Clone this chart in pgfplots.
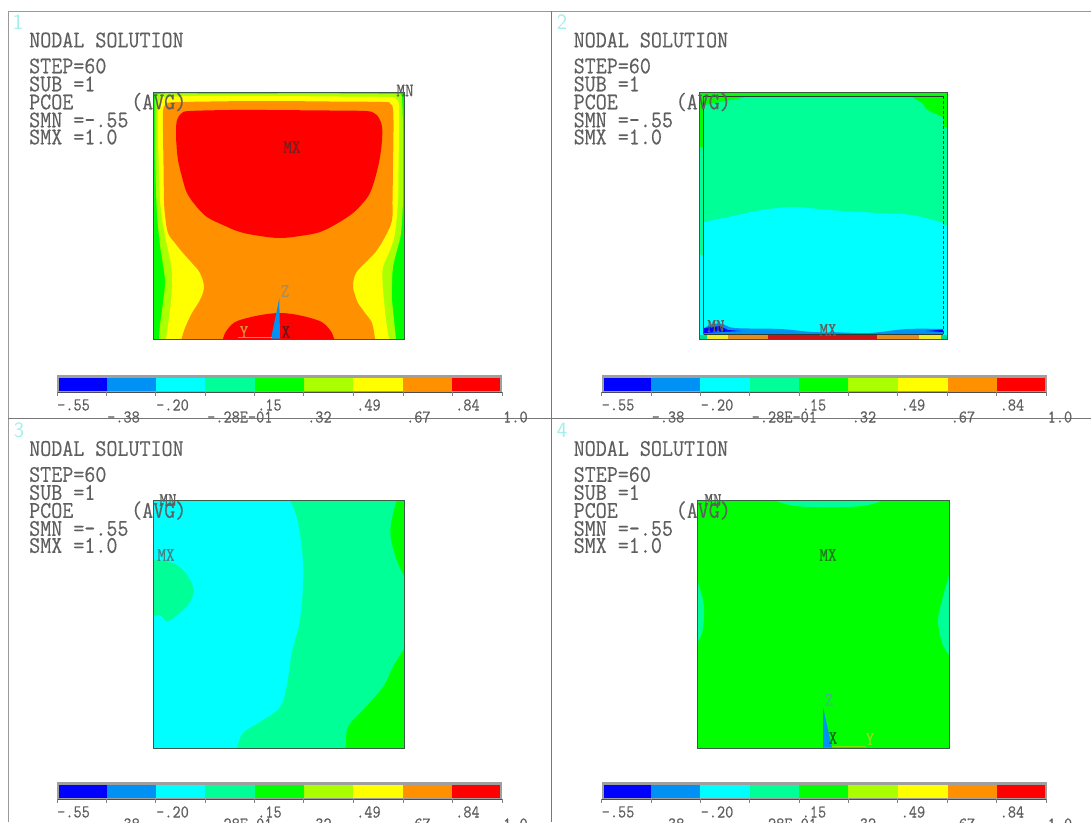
\documentclass[border=0pt]{standalone}
\usepackage{fontspec}
\usepackage{pgfplots}
\pgfplotsset{compat=1.18}
\newfontfamily\ansys{Latin Modern Mono}[FakeStretch=.88,FakeBold=.35]
\newfontfamily\ansysbig{Latin Modern Mono}[FakeStretch=.9,FakeBold=.35]
\definecolor{cA}{RGB}{0,0,255}
\definecolor{cB}{RGB}{0,145,245}
\definecolor{cC}{RGB}{0,255,255}
\definecolor{cD}{RGB}{0,255,150}
\definecolor{cE}{RGB}{0,255,0}
\definecolor{cF}{RGB}{170,255,0}
\definecolor{cG}{RGB}{255,255,0}
\definecolor{cH}{RGB}{255,145,0}
\definecolor{cI}{RGB}{255,0,0}
\definecolor{txtc}{RGB}{95,95,95}
\definecolor{framec}{RGB}{120,120,120}
\definecolor{edge}{RGB}{60,90,70}
\definecolor{numc}{RGB}{165,238,238}
\tikzset{
  bigt/.style={font=\fontsize{23.8}{23.8}\selectfont\ansysbig,text=txtc,anchor=west,inner sep=0pt},
  smallt/.style={font=\fontsize{18}{18}\selectfont\ansys,text=txtc,anchor=west,inner sep=0pt},
  lbl/.style={font=\fontsize{19}{19}\selectfont\ansys,text=txtc,inner sep=0pt},
  numt/.style={font=\fontsize{22}{22}\selectfont\sffamily,text=numc,inner sep=0pt},
  reg/.style={draw=none,smooth,tension=.6},
  poly/.style={draw=none}
}
% text block and colour bar, repeated for the four windows
\newcommand{\panelinfo}[2]{%
  \node[bigt,xshift=#1pt,yshift=-#2pt] at (axis cs:29,40) {NODAL SOLUTION};
  \node[bigt,xshift=#1pt,yshift=-#2pt] at (axis cs:29,66) {STEP=60};
  \node[bigt,xshift=#1pt,yshift=-#2pt] at (axis cs:29,84) {SUB =1};
  \node[bigt,xshift=#1pt,yshift=-#2pt] at (axis cs:29,102) {PCOE};
  \node[bigt,xshift=#1pt,yshift=-#2pt] at (axis cs:131,102) {(AVG)};
  \node[bigt,xshift=#1pt,yshift=-#2pt] at (axis cs:29,120) {SMN =-.55};
  \node[bigt,xshift=#1pt,yshift=-#2pt] at (axis cs:29,137) {SMX =1.0};
}
\newcommand{\cbar}[2]{%
  \addplot[fill=gray!75,draw=none,shift={(#1pt,-#2pt)}] coordinates {(57,375) (502,375) (502,392) (57,392)} -- cycle;
  \addplot[fill=cA,draw=none,shift={(#1pt,-#2pt)}] coordinates {(59,378) (106.5,378) (106.5,391) (59,391)} -- cycle;
  \addplot[fill=cB,draw=none,shift={(#1pt,-#2pt)}] coordinates {(106.5,378) (155.5,378) (155.5,391) (106.5,391)} -- cycle;
  \addplot[fill=cC,draw=none,shift={(#1pt,-#2pt)}] coordinates {(155.5,378) (205,378) (205,391) (155.5,391)} -- cycle;
  \addplot[fill=cD,draw=none,shift={(#1pt,-#2pt)}] coordinates {(205,378) (254.5,378) (254.5,391) (205,391)} -- cycle;
  \addplot[fill=cE,draw=none,shift={(#1pt,-#2pt)}] coordinates {(254.5,378) (303.5,378) (303.5,391) (254.5,391)} -- cycle;
  \addplot[fill=cF,draw=none,shift={(#1pt,-#2pt)}] coordinates {(303.5,378) (353,378) (353,391) (303.5,391)} -- cycle;
  \addplot[fill=cG,draw=none,shift={(#1pt,-#2pt)}] coordinates {(353,378) (403,378) (403,391) (353,391)} -- cycle;
  \addplot[fill=cH,draw=none,shift={(#1pt,-#2pt)}] coordinates {(403,378) (452,378) (452,391) (403,391)} -- cycle;
  \addplot[fill=cI,draw=none,shift={(#1pt,-#2pt)}] coordinates {(452,378) (500,378) (500,391) (452,391)} -- cycle;
  \addplot[draw=gray!60!black,line width=1pt,shift={(#1pt,-#2pt)}] coordinates {(57,392.5) (502,392.5)};
  \addplot[draw=gray,line width=.6pt,shift={(#1pt,-#2pt)}] coordinates {(57,392) (57,396)};
  \addplot[draw=gray,line width=.6pt,shift={(#1pt,-#2pt)}] coordinates {(106.5,392) (106.5,396)};
  \addplot[draw=gray,line width=.6pt,shift={(#1pt,-#2pt)}] coordinates {(155.5,392) (155.5,396)};
  \addplot[draw=gray,line width=.6pt,shift={(#1pt,-#2pt)}] coordinates {(205,392) (205,396)};
  \addplot[draw=gray,line width=.6pt,shift={(#1pt,-#2pt)}] coordinates {(254.5,392) (254.5,396)};
  \addplot[draw=gray,line width=.6pt,shift={(#1pt,-#2pt)}] coordinates {(303.5,392) (303.5,396)};
  \addplot[draw=gray,line width=.6pt,shift={(#1pt,-#2pt)}] coordinates {(353,392) (353,396)};
  \addplot[draw=gray,line width=.6pt,shift={(#1pt,-#2pt)}] coordinates {(403,392) (403,396)};
  \addplot[draw=gray,line width=.6pt,shift={(#1pt,-#2pt)}] coordinates {(452,392) (452,396)};
  \addplot[draw=gray,line width=.6pt,shift={(#1pt,-#2pt)}] coordinates {(502,392) (502,396)};
  \node[smallt,xshift=#1pt,yshift=-#2pt] at (axis cs:57,405) {-.55};
  \node[smallt,xshift=#1pt,yshift=-#2pt] at (axis cs:107,417) {-.38};
  \node[smallt,xshift=#1pt,yshift=-#2pt] at (axis cs:156,405) {-.20};
  \node[smallt,xshift=#1pt,yshift=-#2pt] at (axis cs:207,417) {-.28E-01};
  \node[smallt,xshift=#1pt,yshift=-#2pt] at (axis cs:257,405) {.15};
  \node[smallt,xshift=#1pt,yshift=-#2pt] at (axis cs:307,417) {.32};
  \node[smallt,xshift=#1pt,yshift=-#2pt] at (axis cs:356,405) {.49};
  \node[smallt,xshift=#1pt,yshift=-#2pt] at (axis cs:406,417) {.67};
  \node[smallt,xshift=#1pt,yshift=-#2pt] at (axis cs:455,405) {.84};
  \node[smallt,xshift=#1pt,yshift=-#2pt] at (axis cs:503,417) {1.0};
}
\begin{document}
\begin{tikzpicture}
\path[use as bounding box] (0,0) rectangle (1091pt,822pt);
\begin{axis}[at={(0,0)},anchor=south west,scale only axis,width=1091pt,height=822pt,
  xmin=0,xmax=1091,ymin=0,ymax=822,y dir=reverse,axis lines=none,clip=true]

% ---- window frames
\addplot[draw=gray!80,line width=1pt] coordinates {(8,822) (8,11) (1091,11)};
\addplot[draw=framec,line width=1pt] coordinates {(8,418) (1091,418)};
\addplot[draw=framec,line width=1pt] coordinates {(551,11) (551,822)};

% ---- window 1
\addplot[fill=cE,poly] coordinates {(153,92) (404.5,92) (404.5,339) (153,339)} -- cycle;
\addplot[fill=cF,reg] coordinates {(159,339) (160,325) (162,310) (165,283) (163,265) (160,245) (157,215) (156,190) (155,160) (155,130) (155,100) (157,95) (165,93.5) (200,93.5) (270,93.5) (340,93.5) (395,94) (400,95) (402,99) (403,130) (403,170) (403,200) (401,233) (397,250) (393,267) (392,285) (392,300) (394,320) (396,339)} -- cycle;
\addplot[fill=cG,reg] coordinates {(166,339) (170,310) (172,283) (171,265) (168,250) (163,225) (160,200) (159,170) (158,140) (158,108) (160,100) (165,97) (200,96) (270,96) (340,96.5) (390,97) (396,99) (399,105) (399,130) (398.5,170) (398,200) (395,233) (390,250) (383,267) (382.5,280) (383,290) (386,320) (389,339)} -- cycle;
\addplot[fill=cH,reg] coordinates {(181.5,339) (185,328) (192,313) (200,300) (204,287) (200,273) (192,263) (183,253) (175,243) (168,233) (165,215) (164,200) (163.5,165) (163,133) (163,112) (165,105) (170,102.5) (210,101.5) (267,101) (330,101.5) (383,102) (390,103.5) (393,109) (393.5,130) (393,167) (392.5,200) (392,220) (386,235) (377,250) (368,260) (358,270) (354,278) (353,287) (355,295) (358,303) (365,313) (372,323) (375,339)} -- cycle;
\addplot[fill=cI,reg] coordinates {(267,110) (330,110.5) (365,111) (374,113) (379,118) (382,127) (382,140) (380,157) (376,175) (370,193) (362,204) (353,213) (338,223) (320,232) (300,236) (280,238) (260,236) (240,232) (223,225) (207,217) (196,206) (187,193) (182,177) (178,160) (176.5,145) (176,133) (177,120) (182,113) (190,111) (230,110) (267,110)} -- cycle;
\addplot[fill=cI,reg] coordinates {(223,339) (227,330) (240,320) (280,313) (317,320) (330,330) (334,339)} -- cycle;
\addplot[draw=edge,line width=1pt] coordinates {(153,92) (404.5,92) (404.5,339) (153,339) (153,92)};
\addplot[fill=cB,poly] coordinates {(271,338.5) (279.3,298.3) (280,338.5)} -- cycle;
\addplot[draw={rgb,255:red,190;green,150;blue,90},line width=1pt] coordinates {(238,337.5) (272,337.5)};
\node[lbl,text={rgb,255:red,170;green,140;blue,90}] at (axis cs:285,291) {Z};
\node[lbl,text={rgb,255:red,220;green,150;blue,50}] at (axis cs:244,332) {Y};
\node[lbl,text={rgb,255:red,100;green,20;blue,20}] at (axis cs:286,332) {X};
\node[lbl,text={rgb,255:red,120;green,30;blue,30}] at (axis cs:292,147) {MX};
\node[lbl] at (axis cs:405,90.5) {MN};
\node[numt] at (axis cs:18,22) {1};

% ---- window 2
\addplot[fill=cD,poly] coordinates {(699,92) (947,92) (947,339) (699,339)} -- cycle;
\addplot[fill=cC,poly] coordinates {(699,255) (703,255) (703,335) (699,335)} -- cycle;
\addplot[fill=cC,poly] coordinates {(943,225) (947,225) (947,335) (943,335)} -- cycle;
\addplot[fill=cE,poly] coordinates {(699,92) (947,92) (947,96) (699,96)} -- cycle;
\addplot[fill=cE,poly] coordinates {(699,92) (703.5,92) (703.5,147) (699,147)} -- cycle;
\addplot[fill=cE,poly] coordinates {(943,92) (947,92) (947,127) (943,127)} -- cycle;
\addplot[fill=cC,reg] coordinates {(703.5,222) (728,217) (762,210) (795,207) (828,210) (878,213) (912,215) (943,223)} -- (axis cs:943,334) -- (axis cs:703.5,334) -- cycle;
\addplot[fill=cE,reg] coordinates {(752,96) (730,100) (703.5,105)} -- (axis cs:703.5,96) -- cycle;
\addplot[fill=cE,reg] coordinates {(910,96) (922,103) (928,110) (943,117)} -- (axis cs:943,96) -- cycle;
\addplot[fill=cB,reg] coordinates {(703.5,334) (705,328) (713,324) (723,324) (735,328) (780,329) (813,332) (843,332.5) (870,333) (907,329) (943,329)} -- (axis cs:943,334) -- cycle;
\addplot[fill=cA,poly] coordinates {(704,333) (704,328) (720,326) (728,330) (741,331) (720,332)} -- cycle;
\addplot[fill=cA,poly] coordinates {(926,331) (943,329.5) (943,332)} -- cycle;
\addplot[fill={rgb,255:red,0;green,220;blue,140},poly] coordinates {(699,335) (707,335) (707,339) (699,339)} -- cycle;
\addplot[fill={rgb,255:red,240;green,235;blue,40},poly] coordinates {(707,335) (728,335) (728,339) (707,339)} -- cycle;
\addplot[fill={rgb,255:red,230;green,140;blue,30},poly] coordinates {(728,335) (768,335) (768,339) (728,339)} -- cycle;
\addplot[fill={rgb,255:red,205;green,20;blue,20},poly] coordinates {(768,335) (877,335) (877,339) (768,339)} -- cycle;
\addplot[fill={rgb,255:red,230;green,140;blue,30},poly] coordinates {(877,335) (919,335) (919,339) (877,339)} -- cycle;
\addplot[fill={rgb,255:red,240;green,235;blue,40},poly] coordinates {(919,335) (941,335) (941,339) (919,339)} -- cycle;
\addplot[fill={rgb,255:red,0;green,220;blue,140},poly] coordinates {(941,335) (947,335) (947,339) (941,339)} -- cycle;
\addplot[draw=edge,line width=1pt] coordinates {(699,92) (947,92) (947,339) (699,339) (699,92)};
\addplot[draw=edge!70!black,line width=1pt] coordinates {(703.5,334.3) (703.5,96) (943.3,96)};
\addplot[draw=edge!70!black,line width=.9pt] coordinates {(703.5,334.3) (943.3,334.3)};
\addplot[draw=edge!70!black,line width=.9pt,densely dashed] coordinates {(943.3,96) (943.3,334.3)};
\node[lbl] at (axis cs:716,326) {MN};
\node[lbl] at (axis cs:828,330) {MX};
\node[numt] at (axis cs:562,22) {2};

% ---- window 3
\addplot[fill=cC,poly] coordinates {(153,500) (404.5,500) (404.5,748) (153,748)} -- cycle;
\addplot[fill=cD,reg] coordinates {(290,500.5) (296.7,517) (301.7,547) (303.3,577) (300,620) (291.7,653) (287.3,683) (280,707) (260,722) (243,733) (237,748)} -- (axis cs:404.5,748) -- (axis cs:404.5,500.5) -- cycle;
\addplot[fill=cE,reg] coordinates {(396.7,500.5) (391.7,520) (390.7,537) (396.7,560) (404.5,577)} -- (axis cs:404.5,500.5) -- cycle;
\addplot[fill=cE,reg] coordinates {(404.5,648) (393,667) (383,687) (363,710) (348,727) (346,748)} -- (axis cs:404.5,748) -- cycle;
\addplot[fill=cD,reg] coordinates {(153,560) (170,562) (183,570) (193,587) (190,602) (177,615) (167,621) (160,615) (153,617)} -- cycle;
\addplot[draw=edge,line width=1pt] coordinates {(153,500) (404.5,500) (404.5,748) (153,748) (153,500)};
\node[lbl] at (axis cs:168,500) {MN};
\node[lbl,text={rgb,255:red,70;green,130;blue,130}] at (axis cs:166,555) {MX};
\node[numt] at (axis cs:19,430) {3};

% ---- window 4
\addplot[fill=cE,poly] coordinates {(697,500) (949,500) (949,748) (697,748)} -- cycle;
\addplot[fill=cD,reg] coordinates {(775,500.5) (795,506) (828,507) (862,506) (883,500.5)} -- cycle;
\addplot[fill=cD,reg] coordinates {(697,580) (703,600) (704,617) (702,633) (697,643)} -- cycle;
\addplot[fill=cD,reg] coordinates {(949,575) (942,600) (938,620) (942,643) (949,655)} -- cycle;
\addplot[draw=edge,line width=1pt] coordinates {(697,500) (949,500) (949,748) (697,748) (697,500)};
\addplot[fill=cB,poly] coordinates {(823,747.5) (823,707) (832,747.5)} -- cycle;
\addplot[draw={rgb,255:red,120;green,230;blue,0},line width=1pt] coordinates {(832,746.5) (866,746.5)};
\node[lbl,text={rgb,255:red,60;green,190;blue,120}] at (axis cs:829,700) {Z};
\node[lbl,text={rgb,255:red,20;green,110;blue,20}] at (axis cs:833,738) {X};
\node[lbl,text={rgb,255:red,150;green,220;blue,30}] at (axis cs:870,739) {Y};
\node[lbl,text={rgb,255:red,30;green,120;blue,30}] at (axis cs:828,555) {MX};
\node[lbl] at (axis cs:713,500) {MN};
\node[numt] at (axis cs:562,430) {4};

% ---- dotted left edges
\addplot[draw=black!70,line width=.6pt,densely dotted] coordinates {(153,160) (153,339)};
\addplot[draw=black!70,line width=.6pt,densely dotted] coordinates {(153,560) (153,748)};
\addplot[draw=black!70,line width=.6pt,densely dotted] coordinates {(697,570) (697,748)};

% ---- text and colour bars
\panelinfo{0}{0}
\panelinfo{544.5}{0}
\panelinfo{0}{408.5}
\panelinfo{544.5}{408.5}
\cbar{0}{0}
\cbar{544.5}{0}
\cbar{0}{407}
\cbar{544.5}{407}
\end{axis}
\end{tikzpicture}
\end{document}
